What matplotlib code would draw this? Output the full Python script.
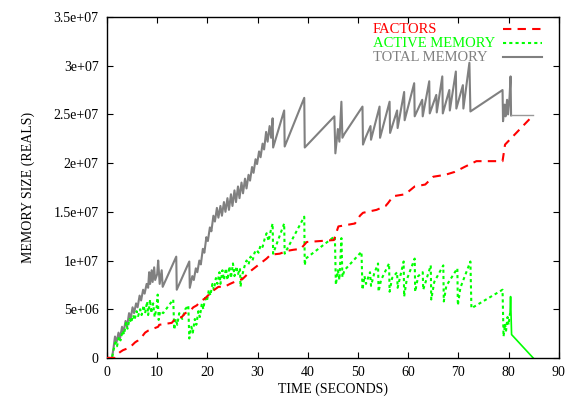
import matplotlib
matplotlib.use("Agg")
import matplotlib.pyplot as plt

# TOTAL MEMORY (gray), time in seconds, value in millions of reals
total_t = [0, 1.0, 1.3, 1.6, 1.9, 2.3, 2.6, 3.0, 3.3, 3.7, 4.0, 4.4, 4.7, 5.1, 5.4, 5.8, 6.1,
           6.5, 6.8, 7.2, 7.5, 7.9, 8.2, 8.4, 8.6, 8.9, 9.1, 9.4, 9.6, 10.0, 10.2, 10.5, 10.9,
           11.1, 13.8, 13.9, 16.4, 16.5, 17.0, 17.3, 17.7, 18.0, 18.4, 18.7, 19.1, 19.4, 19.8,
           20.1, 20.5, 20.8, 21.2, 21.5, 21.9, 22.2, 22.6, 22.9, 23.3, 23.6, 24.0, 24.3, 24.7,
           25.0, 25.4, 25.7, 26.1, 26.4, 26.8, 27.1, 27.5, 27.8, 28.2, 28.5, 28.9, 29.2, 29.6,
           29.9, 30.3, 30.6, 31.0, 31.3, 31.7, 32.0, 32.4, 32.7, 33.0, 33.1, 35.3, 35.4, 39.3,
           39.4, 45.3, 45.5, 46.0, 46.3, 46.7, 46.9, 47.3, 50.9, 51.0, 51.5, 52.5, 52.6, 54.3,
           54.4, 56.3, 56.4, 57.8, 57.9, 59.2, 59.3, 61.2, 61.3, 62.8, 62.9, 64.2, 64.3, 65.6,
           65.7, 66.8, 66.9, 68.2, 68.3, 69.5, 69.6, 70.9, 71.0, 72.2, 72.4, 78.8, 78.9, 79.2,
           79.4, 79.7, 79.9, 80.2, 80.4, 80.5]
total_v = [0, 0, 1.0, 2.2, 1.6, 2.6, 2.0, 3.2, 2.6, 3.8, 3.2, 4.6, 4.0, 5.2, 4.6, 5.6, 5.2,
           6.4, 5.9, 7.0, 6.6, 7.6, 7.2, 8.8, 7.6, 9.0, 7.8, 9.3, 8.0, 8.6, 10.0, 7.6, 9.0,
           7.3, 10.4, 7.0, 9.9, 7.2, 8.4, 8.0, 9.2, 8.8, 10.0, 9.6, 11.2, 10.8, 12.4,
           12.0, 13.4, 13.0, 14.6, 14.0, 15.4, 14.4, 15.6, 14.6, 16.0, 15.0, 16.4, 15.2, 16.8,
           15.6, 17.2, 16.0, 17.6, 16.4, 18.0, 16.9, 18.4, 17.4, 18.8, 18.2, 19.6, 19.0, 20.4,
           19.9, 21.2, 20.6, 22.0, 21.4, 23.2, 22.2, 23.8, 22.6, 24.6, 21.6, 25.4, 21.7, 26.7,
           21.6, 24.8, 21.0, 23.5, 22.2, 26.3, 22.6, 23.0, 25.8, 21.9, 22.6, 23.8, 22.4, 25.8,
           22.6, 26.3, 23.1, 25.4, 23.6, 27.3, 24.4, 28.2, 24.8, 26.5, 24.8, 28.4, 25.1, 27.0,
           25.2, 28.9, 25.1, 27.5, 25.4, 29.4, 25.6, 28.0, 25.6, 30.3, 25.3, 27.5, 24.3, 26.0,
           24.8, 26.5, 25.0, 26.8, 28.9, 24.9]
total_tail_t = [80.5, 84.9]
total_tail_v = [24.9, 24.9]

# ACTIVE MEMORY (green)
active_t = [0, 1.0, 1.3, 1.7, 2.0, 2.4, 2.7, 3.1, 3.4, 3.8, 4.1, 4.5, 4.8, 5.2, 5.5, 5.9, 6.2,
            6.6, 6.9, 7.3, 7.6, 8.0, 8.2, 8.6, 8.8, 9.2, 9.5, 9.9, 10.1, 10.3, 10.6, 11.2, 13.2,
            13.4, 13.7, 14.0, 14.4, 15.0, 15.6, 16.2, 16.4, 16.8, 17.1, 17.5, 17.8, 18.2, 18.5,
            18.9, 19.2, 19.6, 19.9, 20.3, 20.6, 21.0, 21.3, 21.7, 22.0, 22.4, 22.6, 23.0, 23.3,
            23.7, 24.0, 24.4, 24.7, 25.1, 25.4, 25.8, 26.1, 26.5, 26.6, 27.0, 27.4, 27.8, 28.2,
            28.6, 29.0, 29.4, 29.8, 30.2, 30.6, 31.0, 31.4, 31.8, 32.2, 32.6, 33.0, 33.1, 35.3,
            35.4, 39.3, 39.4, 39.6, 45.4, 45.6, 46.0, 46.3, 46.7, 46.9, 47.3, 50.7, 50.9, 51.3,
            51.6, 52.4, 52.6, 53.2, 54.0, 54.1, 54.6, 56.2, 56.3, 56.8, 57.8, 57.9, 59.1, 59.2,
            59.7, 61.3, 61.4, 62.0, 62.9, 63.0, 64.5, 64.6, 65.2, 67.0, 67.1, 67.6, 69.8, 69.9,
            70.4, 72.4, 72.6, 78.8, 79.0, 79.3, 79.5, 79.8, 80.0, 80.3]
active_v = [0, 0, 0.8, 1.6, 1.2, 2.2, 1.8, 2.8, 2.4, 3.6, 3.0, 4.0, 3.6, 4.4, 3.9, 4.8, 4.3,
            5.0, 4.4, 5.4, 4.6, 5.8, 4.4, 6.0, 4.6, 5.6, 4.2, 5.2, 6.5, 3.9, 4.8, 4.6, 6.0,
            2.9, 4.0, 3.4, 4.6, 4.0, 5.0, 5.4, 2.0, 3.2, 2.6, 4.0, 3.4, 4.8, 4.2,
            5.6, 5.0, 6.4, 5.8, 7.0, 6.4, 7.6, 7.0, 8.2, 7.6, 8.8, 7.6, 9.0, 8.0,
            9.2, 8.0, 9.4, 8.2, 9.7, 8.4, 9.4, 8.6, 9.2, 7.3, 8.6, 9.4, 10.0, 9.6,
            10.4, 10.0, 10.8, 11.1, 10.8, 11.6, 11.4, 12.2, 12.8, 12.0, 13.0, 13.8, 10.7, 13.8,
            10.7, 14.5, 9.5, 10.2, 12.5, 7.5, 9.0, 8.0, 12.3, 8.3, 9.0, 10.9, 7.0, 8.4,
            7.6, 8.8, 7.4, 8.6, 9.7, 6.8, 8.0, 9.7, 6.8, 8.2, 8.8, 7.2, 9.9, 6.3,
            8.0, 10.2, 6.8, 8.4, 8.8, 7.0, 9.5, 6.0, 7.8, 9.5, 5.8, 7.4, 9.2, 5.4,
            7.2, 9.9, 5.1, 7.0, 2.2, 3.5, 2.8, 4.2, 3.4, 4.6]
active_tail_t = [80.3, 80.4, 80.6, 84.9]
active_tail_v = [4.6, 6.3, 2.4, 0]

# FACTORS (red)
factors_t = [0, 1.5, 1.9, 2.6, 3.2, 4.2, 4.8, 5.6, 6.2, 7.0, 7.6, 8.2, 9.2, 10.2, 10.4, 12.9,
             13.6, 14.9, 15.6, 16.5, 17.2, 17.9, 18.6, 19.5, 20.5, 21.4, 22.2, 23.4, 24.5, 25.8,
             27.0, 27.8, 28.8, 29.8, 30.8, 31.8, 32.6, 34.4, 36.0, 37.1, 38.6, 39.8, 45.2, 46.1,
             49.4, 50.4, 51.0, 53.7, 55.5, 56.0, 57.0, 59.4, 61.3, 63.4, 65.0, 67.4, 69.3, 71.2,
             73.6, 78.8, 79.3, 84.9]
factors_v = [0, 0, 0.3, 0.6, 0.8, 1.0, 1.2, 1.6, 1.8, 2.2, 2.6, 2.8, 3.0, 3.2, 3.4, 3.6,
             4.0, 4.2, 4.6, 4.8, 5.2, 5.4, 5.8, 6.1, 6.6, 7.0, 7.3, 7.3, 7.6, 7.9,
             8.1, 8.5, 9.0, 9.4, 9.8, 10.2, 10.6, 10.7, 11.0, 11.1, 11.2, 11.9, 12.1, 13.5,
             13.8, 14.6, 14.9, 15.2, 15.6, 15.9, 16.6, 16.8, 17.6, 17.8, 18.6, 18.8, 19.1, 19.6,
             20.2, 20.2, 21.9, 24.9]

y_ticks = [0, 5e6, 1e7, 1.5e7, 2e7, 2.5e7, 3e7, 3.5e7]
y_tick_labels = ["0", "5e+06", "1e+07", "1.5e+07", "2e+07", "2.5e+07", "3e+07", "3.5e+07"]
x_ticks = [0, 10, 20, 30, 40, 50, 60, 70, 80, 90]

plt.rcParams['font.family'] = ['Liberation Serif', 'DejaVu Serif']
plt.rcParams['font.size'] = 10

fig = plt.figure(figsize=(5.69, 4.04), dpi=100)
ax = fig.add_axes([0.188, 0.114, 0.794, 0.844])

M = 1e6
red_style = dict(color='#ff0000', lw=1.5, dashes=(4, 3))
green_style = dict(color='#00ff00', lw=1.5, dashes=(1.5, 1.5))
gray_style = dict(color='#808080', lw=1.5)

ax.plot(factors_t, [v * M for v in factors_v], zorder=3, **red_style)
ax.plot(active_t, [v * M for v in active_v], zorder=2, **green_style)
ax.plot(active_tail_t, [v * M for v in active_tail_v], color='#00ff00', lw=1.2, zorder=2)
ax.plot(total_t, [v * M for v in total_v], zorder=1, **gray_style)
ax.plot(total_tail_t, [v * M for v in total_tail_v], color='#999999', lw=1.0, zorder=1)

ax.set_xlim(0, 90)
ax.set_ylim(0, 3.5e7)
ax.set_xticks(x_ticks)
ax.set_yticks(y_ticks)
ax.set_yticklabels(y_tick_labels)
ax.tick_params(direction='in', length=4, width=0.8, top=True, right=True, pad=6)
for s in ax.spines.values():
    s.set_linewidth(1.0)

ax.set_xlabel('TIME (SECONDS)', labelpad=2)
ax.set_ylabel('MEMORY SIZE (REALS)', labelpad=13)

# gnuplot-style key: left aligned text, sample line to the right
key = [('FACTORS', red_style), ('ACTIVE MEMORY', green_style), ('TOTAL MEMORY', gray_style)]
for i, (name, st) in enumerate(key):
    yk = 0.962 - i * 0.041
    ax.text(0.588, yk, name, transform=ax.transAxes, color=st['color'],
            ha='left', va='center', fontsize=10.5)
    ax.plot([0.876, 0.962], [yk + 0.004, yk + 0.004], transform=ax.transAxes,
            clip_on=False, **st)

fig.savefig('out.png', dpi=100)
